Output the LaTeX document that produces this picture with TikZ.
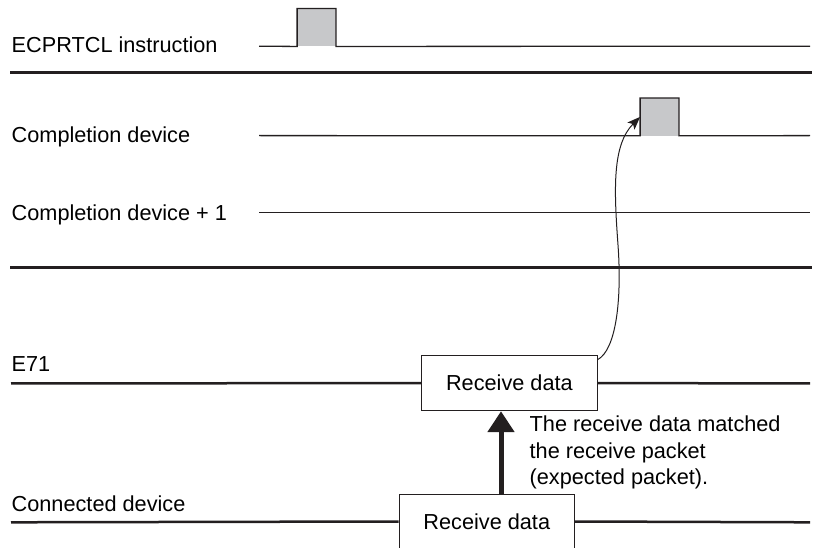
\documentclass[tikz,border=0pt]{standalone}
\usepackage{fontspec}
\setmainfont{Liberation Sans}
\usetikzlibrary{arrows.meta}
\definecolor{ink}{RGB}{35,31,32}
\definecolor{pulsegray}{RGB}{199,200,202}
\begin{document}
\begin{tikzpicture}[x=1pt,y=-1pt,
  lbl/.style={anchor=base west,inner sep=0pt,font=\fontsize{21.7}{26.3}\selectfont},
  wave/.style={draw=ink,line width=1.3pt},
  sepline/.style={draw=ink,line width=3pt},
  busline/.style={draw=ink,line width=2.5pt},
  databox/.style={draw=ink,line width=1pt,fill=white,minimum width=175.3pt,minimum height=55pt,inner sep=0pt,font=\fontsize{21.7}{26.3}\selectfont},
  pulse/.style={fill=pulsegray,minimum width=38.4pt,minimum height=37.5pt,inner sep=0pt},
  bigarrow/.style={draw=ink,line width=5pt,-{Triangle[width=26pt,length=21pt]}},
  curvearrow/.style={draw=ink,line width=1pt,-{Stealth[length=13pt,width=10pt,inset=3pt]}},
]
\useasboundingbox (0,0) rectangle (816,548);
\clip (0,0) rectangle (816,548);

% labels
\node[lbl] (l1) at (11.5,52.7) {ECPRTCL instruction};
\node[lbl] (l2) at (11.5,143) {Completion device};
\node[lbl] (l3) at (11.5,220.5) {Completion device + 1};
\node[lbl] (l4) at (11.5,371.7) {E71};
\node[lbl] (l5) at (11.5,511) {Connected device};

% separators
\coordinate (s1a) at (10,72.3); \coordinate (s1b) at (812,72.3);
\coordinate (s2a) at (10,267.3); \coordinate (s2b) at (812,267.3);
\draw[sepline] (s1a) -- (s1b);
\draw[sepline] (s2a) -- (s2b);

% pulses
\node[pulse] (p1) at (316.5,27.5) {};
\node[pulse] (p2) at (659.5,116.9) {};
\coordinate (w1s) at (259,46.2); \coordinate (w1e) at (810,46.2);
\coordinate (w2s) at (259,135.6); \coordinate (w2e) at (810,135.6);
\coordinate (w3s) at (259,212.7); \coordinate (w3e) at (810,212.7);
\draw[wave] (w1s) -- (p1.south west) -- (p1.north west) -- (p1.north east) -- (p1.south east) -- (w1e);
\draw[wave] (w2s) -- (p2.south west) -- (p2.north west) -- (p2.north east) -- (p2.south east) -- (w2e);
\draw[wave] (w3s) -- (w3e);

% data boxes
\node[databox] (b1) at (509.4,383.2) {Receive data};
\node[databox] (b2) at (486.8,521.5) {Receive data};
\coordinate (e1s) at (11,383.3); \coordinate (e1e) at (810,383.3);
\coordinate (e2s) at (11,522.3); \coordinate (e2e) at (810,522.3);
\draw[busline] (e1s) -- (b1.west);
\draw[busline] (b1.east) -- (e1e);
\draw[busline] (e2s) -- (b2.west);
\draw[busline] (b2.east) -- (e2e);

% thick arrow
\coordinate (ax) at (501,0);
\draw[bigarrow] (b2.north -| ax) -- (b1.south -| ax);

% note (base anchor = last line)
\node[lbl,align=left] (note) at (529.5,484.3) {The receive data matched\\the receive packet\\(expected packet).};

% curved arrow
\draw[curvearrow] ([yshift=-4.5pt]b1.north east) .. controls (616,350) and (622,300) .. (618,245)
  .. controls (614,190) and (612,145) .. (p2.west);
\end{tikzpicture}
\end{document}
